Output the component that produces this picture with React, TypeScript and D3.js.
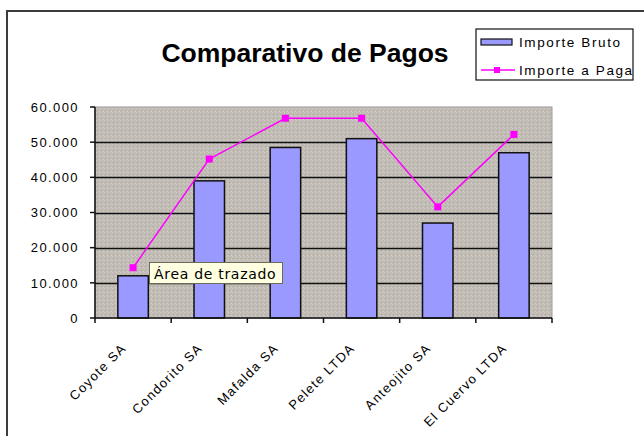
import { useEffect, useRef } from "react";
import { scaleBand, scaleLinear, select, line, formatLocale } from "d3";

const categories = [
  "Coyote SA",
  "Condorito SA",
  "Mafalda SA",
  "Pelete LTDA",
  "Anteojito SA",
  "El Cuervo LTDA",
];
const importeBruto = [12000, 39000, 48500, 51000, 27000, 47000];
const importeAPagar = [14300, 45200, 56800, 56800, 31600, 52200];
const yTicks = [0, 10000, 20000, 30000, 40000, 50000, 60000];
const legendLabels = ["Importe Bruto", "Importe a Pagar"];

const W = 644;
const H = 436;
const plot = { left: 95, right: 552, top: 107, bottom: 318 };
const FONT = "Liberation Sans, Arial, sans-serif";

const fmt = formatLocale({
  decimal: ",",
  thousands: ".",
  grouping: [3],
  currency: ["", ""],
}).format(",");

function Chart() {
  const ref = useRef<SVGSVGElement>(null);

  useEffect(() => {
    if (!ref.current) return;
    const svg = select(ref.current);
    svg.selectAll("*").remove();

    const x = scaleBand<string>()
      .domain(categories)
      .range([plot.left, plot.right])
      .paddingInner(0.6)
      .paddingOuter(0.3);
    const xCell = scaleBand<string>()
      .domain(categories)
      .range([plot.left, plot.right])
      .padding(0);
    const y = scaleLinear().domain([0, 60000]).range([plot.bottom, plot.top]);

    // noisy textured fill like old Excel
    const defs = svg.append("defs");
    const pat = defs
      .append("pattern")
      .attr("id", "bgtex")
      .attr("width", 4)
      .attr("height", 4)
      .attr("patternUnits", "userSpaceOnUse");
    pat.append("rect").attr("width", 4).attr("height", 4).attr("fill", "#c1bcb2");
    pat.append("rect").attr("x", 0).attr("y", 0).attr("width", 1).attr("height", 1).attr("fill", "#cdc6e6");
    pat.append("rect").attr("x", 2).attr("y", 1).attr("width", 1).attr("height", 1).attr("fill", "#cfbfa6");
    pat.append("rect").attr("x", 1).attr("y", 2).attr("width", 1).attr("height", 1).attr("fill", "#aca89f");
    pat.append("rect").attr("x", 3).attr("y", 3).attr("width", 1).attr("height", 1).attr("fill", "#d4cfdc");

    defs
      .append("clipPath")
      .attr("id", "legclip")
      .append("rect")
      .attr("x", 476)
      .attr("y", 29)
      .attr("width", 157)
      .attr("height", 51);

    svg.append("rect").attr("width", W).attr("height", H).attr("fill", "#ffffff");

    // outer frame
    svg
      .append("path")
      .attr("d", `M7,${H + 5} V11 H${W + 5}`)
      .attr("fill", "none")
      .attr("stroke", "#3c3c3c")
      .attr("stroke-width", 2);

    // title
    svg
      .append("text")
      .attr("x", 305)
      .attr("y", 62)
      .attr("text-anchor", "middle")
      .attr("font-family", FONT)
      .attr("font-weight", "bold")
      .attr("font-size", 26.5)
      .text("Comparativo de Pagos");

    // plot area
    svg
      .append("rect")
      .attr("x", plot.left)
      .attr("y", plot.top)
      .attr("width", plot.right - plot.left)
      .attr("height", plot.bottom - plot.top)
      .attr("fill", "url(#bgtex)")
      .attr("stroke", "#9a9a9a")
      .attr("stroke-width", 1);

    // gridlines
    svg
      .append("g")
      .selectAll("line")
      .data(yTicks.filter((t) => t > 0 && t < 60000))
      .join("line")
      .attr("x1", plot.left)
      .attr("x2", plot.right)
      .attr("y1", (d) => Math.round(y(d)) + 0.5)
      .attr("y2", (d) => Math.round(y(d)) + 0.5)
      .attr("stroke", "#111")
      .attr("stroke-width", 1.5);

    // bars
    svg
      .append("g")
      .selectAll("rect")
      .data(importeBruto)
      .join("rect")
      .attr("x", (_, i) => x(categories[i])!)
      .attr("y", (d) => y(d))
      .attr("width", x.bandwidth())
      .attr("height", (d) => plot.bottom - y(d))
      .attr("fill", "#9999ff")
      .attr("stroke", "#111")
      .attr("stroke-width", 1.5);

    // y axis
    const yAxis = svg.append("g");
    yAxis
      .append("line")
      .attr("x1", plot.left)
      .attr("x2", plot.left)
      .attr("y1", plot.top)
      .attr("y2", plot.bottom)
      .attr("stroke", "#111")
      .attr("stroke-width", 1.5);
    yAxis
      .selectAll("line.tick")
      .data(yTicks)
      .join("line")
      .attr("class", "tick")
      .attr("x1", plot.left - 5)
      .attr("x2", plot.left)
      .attr("y1", (d) => y(d))
      .attr("y2", (d) => y(d))
      .attr("stroke", "#111")
      .attr("stroke-width", 1.5);
    yAxis
      .selectAll("text")
      .data(yTicks)
      .join("text")
      .attr("x", 79)
      .attr("y", (d) => y(d))
      .attr("dy", "0.36em")
      .attr("text-anchor", "end")
      .attr("font-family", FONT)
      .attr("font-size", 13)
      .attr("letter-spacing", 1.4)
      .text((d) => fmt(d));

    // x axis
    const xAxis = svg.append("g");
    xAxis
      .append("line")
      .attr("x1", plot.left)
      .attr("x2", plot.right)
      .attr("y1", plot.bottom)
      .attr("y2", plot.bottom)
      .attr("stroke", "#111")
      .attr("stroke-width", 1.5);
    const bounds = [...categories.map((c) => xCell(c)!), plot.right];
    xAxis
      .selectAll("line.tick")
      .data(bounds)
      .join("line")
      .attr("class", "tick")
      .attr("x1", (d) => d)
      .attr("x2", (d) => d)
      .attr("y1", plot.bottom)
      .attr("y2", plot.bottom + 5)
      .attr("stroke", "#111")
      .attr("stroke-width", 1.5);
    xAxis
      .selectAll("text")
      .data(categories)
      .join("text")
      .attr("transform", (d) => {
        const cx = xCell(d)! + xCell.bandwidth() / 2 - 6;
        return `translate(${cx},${349}) rotate(-45)`;
      })
      .attr("text-anchor", "end")
      .attr("font-family", FONT)
      .attr("font-size", 13)
      .attr("letter-spacing", 1.3)
      .text((d) => d);

    // line series
    const pts = importeAPagar.map((v, i) => [
      x(categories[i])! + x.bandwidth() / 2,
      y(v),
    ]) as [number, number][];
    svg
      .append("path")
      .attr("d", line()(pts))
      .attr("fill", "none")
      .attr("stroke", "#ff00ff")
      .attr("stroke-width", 1.5);
    svg
      .append("g")
      .selectAll("rect")
      .data(pts)
      .join("rect")
      .attr("x", (d) => d[0] - 3.5)
      .attr("y", (d) => d[1] - 3.5)
      .attr("width", 7)
      .attr("height", 7)
      .attr("fill", "#ff00ff");

    // tooltip
    const tip = svg.append("g");
    tip
      .append("rect")
      .attr("x", 149.5)
      .attr("y", 262.5)
      .attr("width", 133)
      .attr("height", 21)
      .attr("fill", "#ffffe1")
      .attr("stroke", "#6b6b5a")
      .attr("stroke-width", 1);
    tip
      .append("text")
      .attr("x", 154)
      .attr("y", 279)
      .attr("font-family", "DejaVu Sans, Arial, sans-serif")
      .attr("font-size", 14)
      .attr("letter-spacing", 0.7)
      .text("Área de trazado");

    // legend
    const leg = svg.append("g");
    leg
      .append("rect")
      .attr("x", 476)
      .attr("y", 29)
      .attr("width", 157)
      .attr("height", 51)
      .attr("fill", "#fff")
      .attr("stroke", "#111")
      .attr("stroke-width", 1.2);
    const lg = leg.append("g").attr("clip-path", "url(#legclip)");
    lg.append("rect")
      .attr("x", 481)
      .attr("y", 39)
      .attr("width", 31)
      .attr("height", 6)
      .attr("fill", "#9999ff")
      .attr("stroke", "#111")
      .attr("stroke-width", 1.2);
    lg.append("line")
      .attr("x1", 481)
      .attr("x2", 515)
      .attr("y1", 70)
      .attr("y2", 70)
      .attr("stroke", "#ff00ff")
      .attr("stroke-width", 1.5);
    lg.append("rect")
      .attr("x", 494)
      .attr("y", 67)
      .attr("width", 6)
      .attr("height", 6)
      .attr("fill", "#ff00ff");
    lg.selectAll("text")
      .data(legendLabels)
      .join("text")
      .attr("x", 519)
      .attr("y", (_, i) => 47 + i * 28)
      .attr("font-family", FONT)
      .attr("font-size", 13.5)
      .attr("letter-spacing", 1.6)
      .text((d) => d);
  }, []);

  return <svg ref={ref} width={W} height={H} style={{ display: "block" }} />;
}

export default function App() {
  return (
    <div style={{ position: "absolute", left: 0, top: 0 }}>
      <Chart />
    </div>
  );
}
